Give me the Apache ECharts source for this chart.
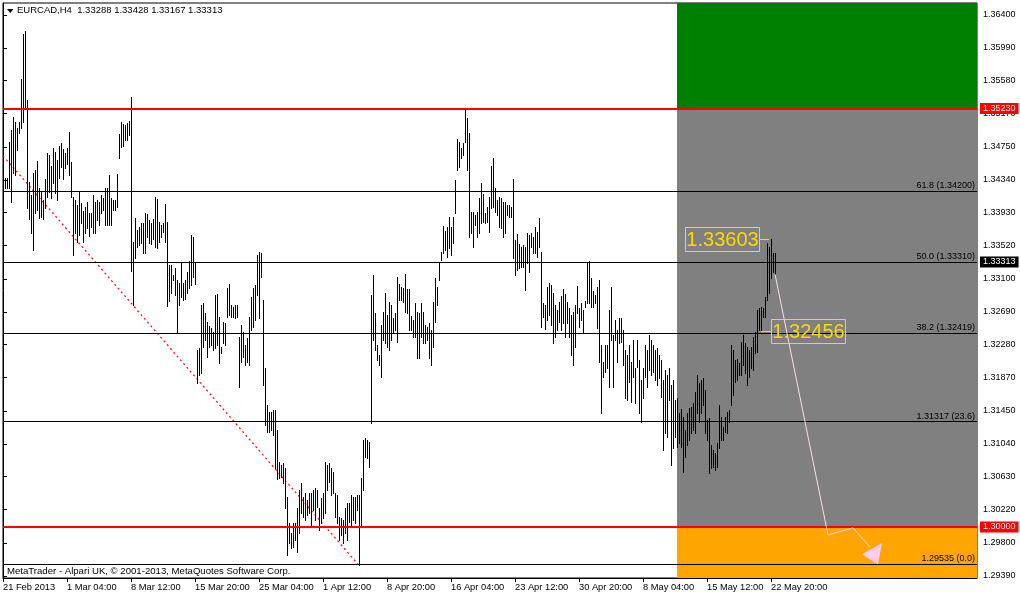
<!DOCTYPE html>
<html><head><meta charset="utf-8">
<script src="https://cdn.jsdelivr.net/npm/echarts@6/dist/echarts.min.js"></script>
<style>html,body{margin:0;padding:0;background:#fff}#c{width:1020px;height:597px}</style>
</head><body><div id="c"></div>
<script>
// ---------- data ----------
const symbolTitle = 'EURCAD,H4  1.33288 1.33428 1.33167 1.33313';
const copyright = 'MetaTrader - Alpari UK, \u00A9 2001-2013, MetaQuotes Software Corp.';
const xTickBars = [0, 32, 64, 96, 128, 160, 192, 224, 256, 288, 320, 352, 384];
const xTickLabels = ['21 Feb 2013', '1 Mar 04:00', '8 Mar 12:00', '15 Mar 20:00', '25 Mar 04:00', '1 Apr 12:00',
  '8 Apr 20:00', '16 Apr 04:00', '23 Apr 12:00', '30 Apr 20:00', '8 May 04:00', '15 May 12:00', '22 May 20:00'];
const yTickValues = [1.36400, 1.35990, 1.35580, 1.35170, 1.34750, 1.34340, 1.33930, 1.33520, 1.33100,
  1.32690, 1.32280, 1.31870, 1.31450, 1.31040, 1.30630, 1.30220, 1.29800, 1.29390];

const highs = [
1.3459,1.3436,1.3436,1.3481,1.3496,1.3513,1.3506,1.3499,1.3506,1.3560,
1.3616,1.3620,1.3534,1.3431,1.3415,1.3443,1.3446,1.3458,1.3424,1.3419,
1.3409,1.3435,1.3468,1.3465,1.3451,1.3474,1.3469,1.3459,1.3476,1.3480,
1.3473,1.3468,1.3474,1.3494,1.3456,1.3413,1.3409,1.3403,1.3419,1.3405,
1.3395,1.3400,1.3406,1.3393,1.3393,1.3415,1.3406,1.3409,1.3406,1.3415,
1.3411,1.3424,1.3424,1.3440,1.3411,1.3409,1.3409,1.3441,1.3491,1.3506,
1.3504,1.3503,1.3505,1.3508,1.3538,1.3356,1.3386,1.3371,1.3375,1.3380,
1.3380,1.3393,1.3391,1.3384,1.3380,1.3385,1.3413,1.3410,1.3381,1.3378,
1.3380,1.3404,1.3381,1.3328,1.3328,1.3315,1.3324,1.3309,1.3305,1.3330,
1.3305,1.3309,1.3319,1.3333,1.3365,1.3363,1.3331,1.3221,1.3224,1.3278,
1.3280,1.3268,1.3256,1.3251,1.3249,1.3244,1.3290,1.3291,1.3263,1.3225,
1.3256,1.3255,1.3299,1.3304,1.3278,1.3275,1.3278,1.3278,1.3238,1.3253,
1.3244,1.3228,1.3236,1.3263,1.3288,1.3299,1.3303,1.3340,1.3344,1.3343,
1.3284,1.3199,1.3153,1.3144,1.3144,1.3146,1.3146,1.3121,1.3081,1.3078,
1.3080,1.3074,1.3038,1.3005,1.2993,1.3005,1.3005,1.3024,1.3046,1.3055,
1.3038,1.3043,1.3034,1.3043,1.3043,1.3046,1.3049,1.3046,1.3024,1.3036,
1.3043,1.3081,1.3078,1.3080,1.3074,1.3069,1.3043,1.3040,1.3013,1.3011,
1.3009,1.3024,1.3030,1.3030,1.3040,1.3038,1.3038,1.3040,1.3040,1.3061,
1.3109,1.3111,1.3109,1.3106,1.3290,1.3315,1.3268,1.3228,1.3215,1.3253,
1.3269,1.3293,1.3265,1.3281,1.3278,1.3261,1.3268,1.3313,1.3304,1.3300,
1.3299,1.3316,1.3298,1.3298,1.3264,1.3259,1.3280,1.3269,1.3268,1.3280,
1.3269,1.3253,1.3250,1.3255,1.3246,1.3281,1.3311,1.3300,1.3331,1.3344,
1.3376,1.3370,1.3375,1.3388,1.3375,1.3388,1.3434,1.3485,1.3481,1.3474,
1.3480,1.3521,1.3511,1.3493,1.3394,1.3394,1.3390,1.3394,1.3411,1.3430,
1.3416,1.3393,1.3400,1.3413,1.3451,1.3461,1.3424,1.3409,1.3413,1.3411,
1.3406,1.3406,1.3403,1.3403,1.3400,1.3435,1.3359,1.3366,1.3354,1.3350,
1.3353,1.3350,1.3368,1.3365,1.3368,1.3363,1.3375,1.3369,1.3386,1.3344,
1.3280,1.3278,1.3300,1.3305,1.3303,1.3293,1.3278,1.3271,1.3281,1.3289,
1.3298,1.3291,1.3281,1.3274,1.3265,1.3269,1.3278,1.3301,1.3274,1.3280,
1.3271,1.3283,1.3330,1.3333,1.3311,1.3295,1.3290,1.3300,1.3309,1.3228,
1.3206,1.3228,1.3228,1.3271,1.3300,1.3240,1.3259,1.3246,1.3261,1.3261,
1.3246,1.3221,1.3215,1.3228,1.3206,1.3234,1.3199,1.3234,1.3209,1.3184,
1.3199,1.3228,1.3221,1.3240,1.3234,1.3228,1.3221,1.3224,1.3215,1.3209,
1.3184,1.3196,1.3190,1.3199,1.3178,1.3184,1.3159,1.3161,1.3143,1.3148,
1.3138,1.3121,1.3143,1.3149,1.3150,1.3155,1.3169,1.3190,1.3180,1.3184,
1.3186,1.3171,1.3134,1.3136,1.3103,1.3096,1.3093,1.3105,1.3153,1.3138,
1.3125,1.3138,1.3144,1.3146,1.3228,1.3221,1.3209,1.3210,1.3205,1.3231,
1.3240,1.3230,1.3225,1.3221,1.3225,1.3238,1.3244,1.3271,1.3274,1.3275,
1.3274,1.3288,1.3355,1.3350,1.33603,1.3343,1.33428];

const lows = [
1.3424,1.3424,1.3424,1.3424,1.3406,1.3443,1.3440,1.3471,1.3493,1.3499,
1.3506,1.3523,1.3399,1.3385,1.3368,1.3346,1.3393,1.3396,1.3386,1.3388,
1.3385,1.3399,1.3413,1.3419,1.3411,1.3430,1.3418,1.3409,1.3436,1.3450,
1.3435,1.3449,1.3454,1.3440,1.3413,1.3340,1.3368,1.3356,1.3365,1.3380,
1.3356,1.3368,1.3374,1.3364,1.3375,1.3368,1.3368,1.3384,1.3378,1.3393,
1.3396,1.3378,1.3378,1.3378,1.3378,1.3396,1.3396,1.3400,1.3461,1.3475,
1.3476,1.3484,1.3484,1.3490,1.3320,1.3278,1.3336,1.3350,1.3353,1.3355,
1.3343,1.3343,1.3363,1.3355,1.3354,1.3360,1.3350,1.3349,1.3356,1.3363,
1.3369,1.3356,1.3276,1.3283,1.3293,1.3309,1.3290,1.3244,1.3278,1.3288,
1.3284,1.3285,1.3293,1.3299,1.3303,1.3313,1.3304,1.3180,1.3190,1.3193,
1.3225,1.3234,1.3213,1.3225,1.3228,1.3221,1.3224,1.3228,1.3205,1.3218,
1.3230,1.3228,1.3263,1.3265,1.3263,1.3263,1.3261,1.3263,1.3175,1.3206,
1.3213,1.3203,1.3206,1.3203,1.3246,1.3250,1.3259,1.3290,1.3261,1.3313,
1.3178,1.3128,1.3119,1.3119,1.3121,1.3115,1.3074,1.3060,1.3061,1.3063,
1.3055,1.3024,1.2965,1.2980,1.2974,1.2975,1.2984,1.2969,1.2993,1.3018,
1.3013,1.3009,1.3015,1.3018,1.3000,1.3021,1.3009,1.3025,1.2996,1.3005,
1.3011,1.3018,1.3046,1.3056,1.3040,1.3043,1.3013,1.3005,1.2984,1.2990,
1.2980,1.2993,1.2984,1.3006,1.3000,1.3009,1.3005,1.3021,1.2953,1.3000,
1.3046,1.3088,1.3086,1.3075,1.3130,1.3234,1.3221,1.3209,1.3203,1.3188,
1.3234,1.3230,1.3225,1.3221,1.3234,1.3243,1.3246,1.3231,1.3284,1.3284,
1.3281,1.3269,1.3268,1.3246,1.3246,1.3238,1.3238,1.3211,1.3211,1.3238,
1.3230,1.3230,1.3234,1.3211,1.3203,1.3225,1.3256,1.3278,1.3309,1.3334,
1.3343,1.3346,1.3338,1.3349,1.3340,1.3355,1.3393,1.3446,1.3450,1.3461,
1.3465,1.3481,1.3446,1.3363,1.3368,1.3350,1.3378,1.3363,1.3368,1.3380,
1.3381,1.3380,1.3381,1.3369,1.3399,1.3400,1.3394,1.3390,1.3375,1.3374,
1.3363,1.3368,1.3390,1.3388,1.3388,1.3336,1.3315,1.3321,1.3324,1.3325,
1.3325,1.3296,1.3330,1.3319,1.3350,1.3343,1.3343,1.3338,1.3350,1.3250,
1.3263,1.3248,1.3259,1.3265,1.3253,1.3230,1.3238,1.3246,1.3256,1.3246,
1.3255,1.3238,1.3255,1.3238,1.3215,1.3203,1.3225,1.3268,1.3250,1.3259,
1.3244,1.3275,1.3280,1.3280,1.3275,1.3275,1.3280,1.3249,1.3206,1.3143,
1.3188,1.3194,1.3199,1.3175,1.3234,1.3175,1.3234,1.3206,1.3230,1.3231,
1.3203,1.3161,1.3159,1.3181,1.3156,1.3188,1.3155,1.3200,1.3143,1.3131,
1.3161,1.3188,1.3175,1.3196,1.3190,1.3194,1.3184,1.3178,1.3186,1.3163,
1.3096,1.3118,1.3113,1.3159,1.3078,1.3099,1.3113,1.3100,1.3105,1.3100,
1.3069,1.3088,1.3103,1.3109,1.3118,1.3121,1.3118,1.3143,1.3131,1.3143,
1.3153,1.3118,1.3109,1.3068,1.3074,1.3075,1.3071,1.3075,1.3099,1.3109,
1.3109,1.3119,1.3118,1.3131,1.3153,1.3165,1.3181,1.3184,1.3190,1.3190,
1.3203,1.3193,1.3178,1.3188,1.3199,1.3196,1.3218,1.3219,1.3246,1.32456,
1.3263,1.3263,1.3284,1.3293,1.3311,1.3319,1.33167];

const zoneStartBar = 337;
const zoneBounds = [1.3655, 1.35230, 1.30000, 1.293625];   // green top, gray top, orange top, bottom
const redLevels = [1.35230, 1.30000];
const fibLevels = [1.34200, 1.33310, 1.32419, 1.31317, 1.29535];
const fibTexts = ['61.8 (1.34200)', '50.0 (1.33310)', '38.2 (1.32419)', '1.31317 (23.6)', '1.29535 (0.0)'];
const bidPrice = 1.33313;
const trendLine = [[0, 1.3464], [177.5, 1.29535]];
const arrowPath = [[386, 1.3316], [412.5, 1.2990], [425, 1.2999], [433.5, 1.2975]];
const arrowHead = [[429.5, 1.2966], [439.5, 1.2980], [437.5, 1.2953]];
const priceTags = [[383, 1.33603], [379, 1.32456]];

// ---------- chart ----------
const Y_MIN = 1.293625, Y_MAX = 1.3655, X_MAX = 487;
const FONT = '"Liberation Sans", Arial, sans-serif';
const chart = echarts.init(document.getElementById('c'), null, {renderer: 'canvas'});

const barData = highs.map((h, i) => [i, lows[i], h]);
const zoneData = [
  [zoneStartBar, X_MAX, zoneBounds[0], zoneBounds[1]],
  [zoneStartBar, X_MAX, zoneBounds[1], zoneBounds[2]],
  [zoneStartBar, X_MAX, zoneBounds[2], zoneBounds[3]]
];
const zoneColors = ['#008000', '#808080', '#ffa500'];

const markData = [];
markData.push({yAxis: bidPrice, lineStyle: {color: '#c0c0c0', width: 1, type: 'solid'},
  label: {show: true, position: 'end', formatter: bidPrice.toFixed(5), color: '#fff', backgroundColor: '#000',
    padding: [1, 3, 1, 3], fontSize: 9, fontFamily: FONT, distance: 3}});
fibLevels.forEach((v, k) => markData.push({yAxis: v, lineStyle: {color: '#000', width: 1, type: 'solid'},
  label: {show: true, position: 'insideEndTop', formatter: fibTexts[k], color: '#000', fontSize: 9,
    fontFamily: FONT, distance: [2, 1]}}));
redLevels.forEach(v => markData.push({yAxis: v, lineStyle: {color: '#ff0000', width: 2, type: 'solid'},
  label: {show: true, position: 'end', formatter: v.toFixed(5), color: '#fff', backgroundColor: '#ff0000',
    padding: [1, 3, 1, 3], fontSize: 9, fontFamily: FONT, distance: 3}}));

const option = {
  animation: false,
  backgroundColor: '#fff',
  textStyle: {fontFamily: FONT},
  grid: {left: 3, right: 43, top: 3, bottom: 19, show: true, borderColor: '#000', borderWidth: 1,
    backgroundColor: '#fff', containLabel: false, outerBoundsMode: 'none'},
  xAxis: {
    type: 'value', min: 0, max: X_MAX,
    axisLine: {show: true, lineStyle: {color: '#000', width: 1}},
    axisTick: {show: true, length: 4, lineStyle: {color: '#000'}, customValues: xTickBars},
    axisLabel: {show: true, customValues: xTickBars, align: 'left', margin: 5, color: '#000', fontSize: 9.3, fontFamily: FONT,
      formatter: v => xTickLabels[xTickBars.indexOf(Math.round(v))] || ''},
    splitLine: {show: false}
  },
  yAxis: {
    type: 'value', position: 'right', min: Y_MIN, max: Y_MAX,
    axisLine: {show: true, lineStyle: {color: '#000', width: 1}},
    axisTick: {show: true, length: 4, inside: false, lineStyle: {color: '#000'}, customValues: yTickValues},
    axisLabel: {show: true, customValues: yTickValues, margin: 6, color: '#000', fontSize: 9, fontFamily: FONT,
      formatter: v => v.toFixed(5)},
    splitLine: {show: false}
  },
  graphic: [
    {type: 'polygon', shape: {points: [[7, 9], [13.5, 9], [10.25, 13]]}, style: {fill: '#000'}, z: 100},
    {type: 'text', left: 17, top: 5, z: 100, style: {text: symbolTitle, font: '9.5px ' + FONT, fill: '#000'}},
    {type: 'text', left: 7, top: 566, z: 100, style: {text: copyright, font: '9.6px ' + FONT, fill: '#000'}}
  ],
  series: [
    {
      type: 'custom', name: 'zones', z: 1, silent: true, clip: true,
      encode: {x: [0, 1], y: [2, 3]},
      data: zoneData,
      renderItem: (params, api) => {
        const a = api.coord([api.value(0), api.value(2)]);
        const b = api.coord([api.value(1), api.value(3)]);
        return {type: 'rect', shape: {x: Math.round(a[0]), y: Math.round(a[1]), width: Math.round(b[0]) - Math.round(a[0]),
          height: Math.round(b[1]) - Math.round(a[1])}, style: {fill: zoneColors[params.dataIndex]}};
      }
    },
    {
      type: 'line', name: 'trend', z: 3, silent: true, data: trendLine, symbol: 'none', showSymbol: false,
      lineStyle: {color: '#ff0000', width: 1.2, type: [2, 3]}
    },
    {
      type: 'custom', name: 'bars', z: 4, silent: true, clip: true,
      encode: {x: 0, y: [1, 2]},
      data: barData,
      renderItem: (params, api) => {
        const i = api.value(0);
        const top = api.coord([i, api.value(2)]);
        const bot = api.coord([i, api.value(1)]);
        const x = Math.round(top[0]) + 0.5;
        return {type: 'line', shape: {x1: x, y1: Math.round(top[1]), x2: x, y2: Math.round(bot[1]) + 1},
          style: {stroke: '#000', lineWidth: 1}};
      }
    },
    {
      type: 'line', name: 'levels', z: 5, silent: true, data: arrowPath, symbol: 'none', showSymbol: false,
      lineStyle: {color: '#ffd8f0', width: 1},
      markLine: {silent: true, symbol: 'none', animation: false, precision: 5, data: markData}
    },
    {
      type: 'custom', name: 'arrowhead', z: 6, silent: true, clip: true,
      data: [arrowHead[0]],
      renderItem: (params, api) => ({type: 'polygon', shape: {points: arrowHead.map(p => api.coord(p))},
        style: {fill: '#ffccf0'}})
    },
    {
      type: 'custom', name: 'tags', z: 7, silent: true, clip: false,
      data: priceTags,
      renderItem: (params, api) => {
        const p = api.coord([api.value(0), api.value(1)]);
        const txt = api.value(1).toFixed(5);
        const w = 74, h = 24, gap = 10;
        const left = params.dataIndex === 0;
        const bx = Math.round(left ? p[0] - gap - w : p[0] + gap) + 0.5;
        const cy = Math.round(p[1]) + 0.5;
        const by = Math.round(p[1] - h / 2) + 0.5;
        return {type: 'group', children: [
          {type: 'line', shape: {x1: left ? bx + w : Math.round(p[0]), y1: cy, x2: left ? Math.round(p[0]) : bx, y2: cy},
            style: {stroke: '#ffd700', lineWidth: 1}},
          {type: 'rect', shape: {x: bx, y: by, width: w, height: h}, style: {fill: 'none', stroke: '#ffd700', lineWidth: 1}},
          {type: 'text', style: {text: txt, x: bx + w / 2, y: cy + 1, align: 'center', verticalAlign: 'middle',
            fill: '#ffd700', font: '20px ' + FONT}}
        ]};
      }
    }
  ]
};
chart.setOption(option);
</script></body></html>
